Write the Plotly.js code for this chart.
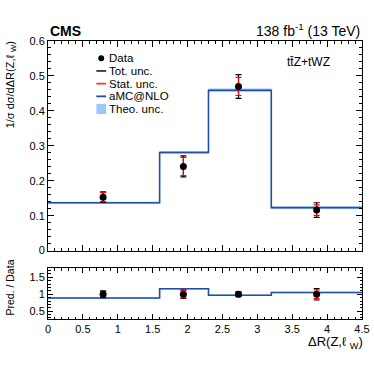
<!DOCTYPE html>
<html>
<head>
<meta charset="utf-8">
<script src="https://cdn.plot.ly/plotly-3.0.1.min.js"></script>
<style>
  html, body { margin: 0; padding: 0; background: #fff; }
  #grafico { width: 374px; height: 367px; }
</style>
</head>
<body>
<div id="grafico"></div>
<script>
// bin edges of dR(Z, l_W) and values
const bordes = [0, 1.6, 2.3, 3.2, 4.5];
const prediccion = [0.137, 0.281, 0.459, 0.123];
const teoUnc = [0.003, 0.004, 0.005, 0.003];

const xDatos = [0.79, 1.94, 2.73, 3.85];
const yDatos = [0.153, 0.241, 0.470, 0.116];
const errTot = [0.015, 0.030, 0.034, 0.021];
const errStat = [0.013, 0.026, 0.026, 0.015];

// ratio panel
const ratioPred = [0.89, 1.16, 0.97, 1.05];
const ratioTeo = [0.02, 0.02, 0.02, 0.02];
const ratioDatos = [1, 1, 1, 1];
const ratioTot = [0.10, 0.12, 0.07, 0.17];
const ratioStat = [0.08, 0.11, 0.06, 0.13];

const azul = '#1f4faa';
const azulClaro = '#9ccaf5';
const fuente = 'Liberation Sans, Arial, sans-serif';

// step helpers: repeat last value so 'hv' reaches the right edge
const paso = v => v.concat([v[v.length - 1]]);
const sumar = (v, e, s) => v.map((y, i) => y + s * e[i]);

function graficar() {
    const trazas = [];

    // theory band + prediction, main and ratio
    [['x', 'y', prediccion, teoUnc], ['x2', 'y2', ratioPred, ratioTeo]].forEach(([xa, ya, v, e]) => {
        trazas.push({
            x: bordes, y: paso(sumar(v, e, -1)), xaxis: xa, yaxis: ya,
            type: 'scatter', mode: 'lines', line: {shape: 'hv', width: 0, color: azulClaro},
            hoverinfo: 'skip', showlegend: false
        });
        trazas.push({
            x: bordes, y: paso(sumar(v, e, 1)), xaxis: xa, yaxis: ya,
            type: 'scatter', mode: 'lines', line: {shape: 'hv', width: 0, color: azulClaro},
            fill: 'tonexty', fillcolor: azulClaro, hoverinfo: 'skip', showlegend: false
        });
        trazas.push({
            x: bordes, y: paso(v), xaxis: xa, yaxis: ya,
            type: 'scatter', mode: 'lines', line: {shape: 'hv', width: 1.6, color: azul},
            showlegend: false
        });
    });

    // data points: total (black) then stat (red)
    [['x', 'y', yDatos, errTot, errStat], ['x2', 'y2', ratioDatos, ratioTot, ratioStat]].forEach(([xa, ya, v, et, es]) => {
        trazas.push({
            x: xDatos, y: v, xaxis: xa, yaxis: ya, type: 'scatter', mode: 'markers',
            marker: {size: 0.1, color: 'black'},
            error_y: {type: 'data', array: et, color: 'black', thickness: 1.2, width: 3},
            showlegend: false
        });
        trazas.push({
            x: xDatos, y: v, xaxis: xa, yaxis: ya, type: 'scatter', mode: 'markers',
            marker: {size: 7, color: 'black'},
            error_y: {type: 'data', array: es, color: 'red', thickness: 1.2, width: 3},
            showlegend: false
        });
    });

    const ejeComun = {
        showline: true, linecolor: 'black', linewidth: 1, mirror: 'allticks',
        ticks: 'inside', ticklen: 6, tickcolor: 'black', showgrid: false, zeroline: false,
        tickfont: {family: fuente, size: 11, color: 'black'}
    };

    // legend entries drawn by hand (ROOT style, tight spacing)
    const leyenda = ['Data', 'Tot. unc.', 'Stat. unc.', 'aMC@NLO', 'Theo. unc.'];
    const leyX0 = 0.154, leyX1 = 0.185, leyY0 = 0.938, leyDy = 0.0457;
    const anotLey = leyenda.map((t, i) => ({
        xref: 'paper', yref: 'paper', x: leyX1 + 0.004, y: leyY0 - i * leyDy,
        xanchor: 'left', yanchor: 'middle', text: t, showarrow: false,
        font: {family: fuente, size: 11.5, color: 'black'}
    }));
    const formas = [];
    const colLey = [null, '#333', '#ff3333', azul];
    for (let i = 1; i <= 3; i++) {
        formas.push({type: 'line', xref: 'paper', yref: 'paper',
            x0: leyX0, x1: leyX1, y0: leyY0 - i * leyDy, y1: leyY0 - i * leyDy,
            line: {color: colLey[i], width: 1.8}});
    }
    formas.push({type: 'rect', xref: 'paper', yref: 'paper',
        x0: leyX0, x1: leyX1, y0: leyY0 - 4 * leyDy - 0.018, y1: leyY0 - 4 * leyDy + 0.018,
        fillcolor: azulClaro, line: {width: 0}});
    const cx = (leyX0 + leyX1) / 2;
    formas.push({type: 'circle', xref: 'paper', yref: 'paper',
        x0: cx - 0.0095, x1: cx + 0.0095, y0: leyY0 - 0.0108, y1: leyY0 + 0.0108,
        fillcolor: 'black', line: {width: 0}});

    const layout = {
        width: 374, height: 367,
        margin: {l: 48, r: 12, t: 41, b: 48},
        paper_bgcolor: 'white', plot_bgcolor: 'white',
        showlegend: false,
        xaxis: Object.assign({}, ejeComun, {
            domain: [0, 1], range: [0, 4.5], dtick: 0.5, showticklabels: false,
            anchor: 'y', matches: 'x2',
            minor: {ticks: 'inside', ticklen: 3, dtick: 0.1, tickcolor: 'black'}
        }),
        yaxis: Object.assign({}, ejeComun, {
            domain: [0.246, 1], range: [0, 0.6], dtick: 0.1, anchor: 'x',
            minor: {ticks: 'inside', ticklen: 3, dtick: 0.02, tickcolor: 'black'}
        }),
        xaxis2: Object.assign({}, ejeComun, {
            domain: [0, 1], range: [0, 4.5], dtick: 0.5, anchor: 'y2', ticklen: 5,
            minor: {ticks: 'inside', ticklen: 2.5, dtick: 0.1, tickcolor: 'black'}
        }),
        yaxis2: Object.assign({}, ejeComun, {
            domain: [0, 0.183], range: [0.27, 1.77], tickvals: [0.5, 1, 1.5],
            ticktext: ['0.5', '1', '1.5'], anchor: 'x2', ticklen: 5,
            minor: {ticks: 'inside', ticklen: 2.5, dtick: 0.1, tickcolor: 'black'}
        }),
        shapes: formas,
        annotations: anotLey.concat([
            {xref: 'paper', yref: 'paper', x: 0, y: 1, yshift: 0, xanchor: 'left', yanchor: 'bottom',
             text: '<b>CMS</b>', showarrow: false, font: {family: fuente, size: 14, color: 'black'}},
            {xref: 'paper', yref: 'paper', x: 1, y: 1, yshift: 0, xanchor: 'right', yanchor: 'bottom',
             text: '138 fb<sup>-1</sup> (13 TeV)', showarrow: false, font: {family: fuente, size: 14, color: 'black'}},
            {xref: 'paper', yref: 'paper', x: 0.904, y: 0.924, xanchor: 'right', yanchor: 'middle',
             text: 't\u0074\u0304Z+tWZ', showarrow: false, font: {family: fuente, size: 12, color: 'black'}},
            {xref: 'paper', yref: 'paper', x: -0.117, y: 1.005, xanchor: 'center', yanchor: 'top', textangle: -90,
             text: '1/σ dσ/dΔR(Z,ℓ <sub>W</sub>)', showarrow: false, font: {family: fuente, size: 11, color: 'black'}},
            {xref: 'paper', yref: 'paper', x: -0.122, y: 0.112, xanchor: 'center', yanchor: 'middle', textangle: -90,
             text: 'Pred. / Data', showarrow: false, font: {family: fuente, size: 10.5, color: 'black'}},
            {xref: 'paper', yref: 'paper', x: 1.01, y: -0.083, xanchor: 'right', yanchor: 'middle',
             text: 'ΔR(Z,ℓ <sub>W</sub>)', showarrow: false, font: {family: fuente, size: 13, color: 'black'}}
        ])
    };

    Plotly.newPlot('grafico', trazas, layout, {displayModeBar: false, staticPlot: true});
}

window.onload = graficar;
</script>
</body>
</html>
